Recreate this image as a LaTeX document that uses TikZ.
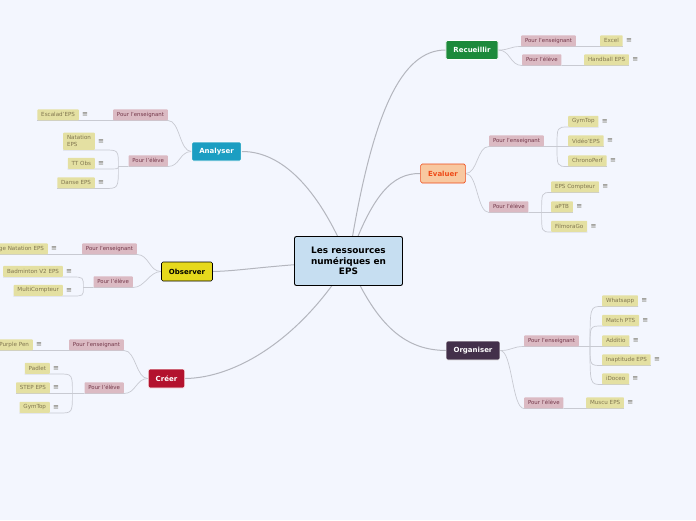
\documentclass[tikz,border=0pt]{standalone}
\usepackage{fontspec}
\setmainfont{DejaVu Sans}
\usetikzlibrary{positioning, backgrounds}
\definecolor{paper}{HTML}{F3F6FE}
\definecolor{rootblue}{HTML}{C6DEF1}
\definecolor{recgreen}{HTML}{1D8A3B}
\definecolor{evafill}{HTML}{F8C8A0}
\definecolor{evared}{HTML}{EE4A18}
\definecolor{orgplum}{HTML}{43304A}
\definecolor{anateal}{HTML}{1B9EC2}
\definecolor{obsyellow}{HTML}{E6D91C}
\definecolor{crecrimson}{HTML}{B3122E}
\definecolor{tagpink}{HTML}{DBBAC3}
\definecolor{tagtext}{HTML}{74384A}
\definecolor{leafkhaki}{HTML}{E4E0A2}
\definecolor{leaftext}{HTML}{817650}
\definecolor{menugray}{HTML}{6E6C5E}
\definecolor{trunkgray}{HTML}{B4B6BE}
\definecolor{twiggray}{HTML}{C8CAD2}

\tikzset{
  root/.style={draw=black, fill=rootblue, line width=0.9pt, rounded corners=2pt,
    font=\bfseries\fontsize{8.9}{10.5}\selectfont, align=center,
    minimum width=108pt, minimum height=49pt, inner sep=2pt},
  topic/.style={rounded corners=1.5pt, line width=0.6pt, font=\bfseries\fontsize{7}{8}\selectfont,
    minimum height=19pt, inner xsep=7.5pt, inner ysep=0pt},
  tag/.style={fill=tagpink, text=tagtext, rounded corners=0.8pt, font=\fontsize{5.4}{6.5}\selectfont,
    minimum height=11pt, inner xsep=3.8pt, inner ysep=0pt},
  leaf/.style={fill=leafkhaki, text=leaftext, rounded corners=0.8pt, font=\fontsize{5.6}{6.8}\selectfont,
    minimum height=11pt, inner xsep=3.8pt, inner ysep=0pt},
  menu/.style={text=menugray, font=\fontsize{7}{7}\selectfont, inner sep=0pt},
  trunk/.style={draw=trunkgray, line width=1pt},
  twig/.style={draw=twiggray, line width=0.7pt},
}

\begin{document}
\begin{tikzpicture}[x=1pt, y=-1pt]
  \useasboundingbox (0,0) rectangle (696,520);

  % centre and main topics
  \node[root] (root) at (348.5,261) {Les ressources\\numériques en\\EPS};
  \node[topic, draw=white, fill=recgreen, text=white] (rec) at (472,50) {Recueillir};
  \node[topic, draw=evared, fill=evafill, text=evared] (eva) at (443,173.5) {Evaluer};
  \node[topic, draw=white, fill=orgplum, text=white] (org) at (473,350.5) {Organiser};
  \node[topic, draw=white, fill=anateal, text=white] (ana) at (216.5,151.5) {Analyser};
  \node[topic, draw=black, fill=obsyellow, text=black] (obs) at (187,271.5) {Observer};
  \node[topic, draw=white, fill=crecrimson, text=white] (cre) at (166.5,378.5) {Créer};

  % right side
  \node[tag, anchor=south west] (rec-e) at (521,46.5) {Pour l'enseignant};
  \node[tag, anchor=south west] (rec-l) at (522,65.5) {Pour l'élève};
  \node[leaf, anchor=south west] (xl) at (600,46.5) {Excel};
  \node[leaf, anchor=south west] (hb) at (584,65.5) {Handball EPS};

  \node[tag, anchor=south west] (eva-e) at (489,146.5) {Pour l'enseignant};
  \node[tag, anchor=south west] (eva-l) at (489,212.5) {Pour l'élève};
  \node[leaf, anchor=south west] (gym) at (568,127) {GymTop};
  \node[leaf, anchor=south west] (vid) at (568,146.5) {Vidéo'EPS};
  \node[leaf, anchor=south west] (chr) at (568,166.5) {ChronoPerf};
  \node[leaf, anchor=south west] (epc) at (551,192.5) {EPS Compteur};
  \node[leaf, anchor=south west] (aptb) at (551,212.5) {aPTB};
  \node[leaf, anchor=south west] (fil) at (551,232) {FilmoraGo};

  \node[tag, anchor=south west] (org-e) at (524,346.5) {Pour l'enseignant};
  \node[tag, anchor=south west] (org-l) at (524,408.5) {Pour l'élève};
  \node[leaf, anchor=south west] (wa) at (602,306.5) {Whatsapp};
  \node[leaf, anchor=south west] (mpts) at (602,326) {Match PTS};
  \node[leaf, anchor=south west] (add) at (602,346.5) {Additio};
  \node[leaf, anchor=south west] (inap) at (602,365.5) {Inaptitude EPS};
  \node[leaf, anchor=south west] (ido) at (602,384.5) {iDoceo};
  \node[leaf, anchor=south west] (mus) at (586,408.5) {Muscu EPS};

  % left side
  \node[tag, anchor=south east] (ana-e) at (168,120.5) {Pour l'enseignant};
  \node[tag, anchor=south east] (ana-l) at (168,166.5) {Pour l'élève};
  \node[leaf, anchor=south east] (esc) at (79,120.5) {Escalad'EPS};
  \node[leaf, anchor=south east, align=left, inner ysep=3pt] (nat) at (95,150) {Natation\\EPS};
  \node[leaf, anchor=south east] (tto) at (95,169) {TT Obs};
  \node[leaf, anchor=south east] (dan) at (95,188.5) {Danse EPS};

  \node[tag, anchor=south east] (obs-e) at (137,254.5) {Pour l'enseignant};
  \node[tag, anchor=south east] (obs-l) at (133,287.5) {Pour l'élève};
  \node[leaf, anchor=south east] (gnat) at (48,254.5) {ge Natation EPS};
  \node[leaf, anchor=south east] (bad) at (63,277) {Badminton V2 EPS};
  \node[leaf, anchor=south east] (mco) at (63,296) {MultiCompteur};

  \node[tag, anchor=south east] (cre-e) at (124,350.5) {Pour l'enseignant};
  \node[tag, anchor=south east] (cre-l) at (124,393.5) {Pour l'élève};
  \node[leaf, anchor=south east] (pp) at (33,350.5) {Purple Pen};
  \node[leaf, anchor=south east] (pad) at (50,374) {Padlet};
  \node[leaf, anchor=south east] (stp) at (50,393.5) {STEP EPS};
  \node[leaf, anchor=south east] (gym2) at (50,413) {GymTop};

  \foreach \l in {xl,hb,gym,vid,chr,epc,aptb,fil,wa,mpts,add,inap,ido,mus,
                  esc,nat,tto,dan,gnat,bad,mco,pp,pad,stp,gym2}
    \node[menu, right=3pt of \l] (\l-m) {≡};

  \coordinate (eva-e-k) at ([xshift=13pt]eva-e.south east);
  \coordinate (eva-l-k) at ([xshift=13pt]eva-l.south east);
  \coordinate (org-e-k) at ([xshift=11pt]org-e.south east);
  \coordinate (ana-l-k) at ([xshift=-10pt]ana-l.south west);
  \coordinate (obs-l-k) at ([xshift=-10pt]obs-l.south west);
  \coordinate (cre-l-k) at ([xshift=-12pt]cre-l.south west);

  \begin{scope}[on background layer]
    \fill[paper] (0,0) rectangle (696,520);
    % trunks
    \draw[trunk] (root.center) .. controls (372,110) and (402,50) .. (rec.west);
    \draw[trunk] (root.center) .. controls (372,195) and (392,173) .. (eva.west);
    \draw[trunk] (root.center) .. controls (378,330) and (408,350) .. (org.west);
    \draw[trunk] (root.center) .. controls (322,195) and (285,151) .. (ana.east);
    \draw[trunk] (root.center) .. controls (262,266) and (240,271) .. (obs.east);
    \draw[trunk] (root.center) .. controls (300,340) and (235,378) .. (cre.east);

    % right branches
    \foreach \t/\s in {rec/rec-e,rec/rec-l,eva/eva-e,eva/eva-l,org/org-e,org/org-l}
      \draw[twig] (\t.east) .. controls +(12,0) and +(-12,0) .. (\s.south west) -- (\s.south east);
    \draw[twig] (rec-e.south east) -- (xl.south east);
    \draw[twig] (rec-l.south east) -- (hb.south east);
    \draw[twig] (org-l.south east) -- (mus.south east);
    \draw[twig] (eva-e.south east) -- (eva-e-k);
    \draw[twig] (eva-l.south east) -- (eva-l-k);
    \draw[twig] (org-e.south east) -- (org-e-k);
    \foreach \k/\l in {eva-e-k/gym,eva-e-k/vid,eva-e-k/chr,eva-l-k/epc,eva-l-k/aptb,eva-l-k/fil,
                       org-e-k/wa,org-e-k/mpts,org-e-k/add,org-e-k/inap,org-e-k/ido}
      \draw[twig] (\k) .. controls (\k |- \l.south west) .. (\l.south west) -- (\l.south east);

    % left branches
    \foreach \t/\s in {ana/ana-e,ana/ana-l,obs/obs-e,obs/obs-l,cre/cre-e,cre/cre-l}
      \draw[twig] (\t.west) .. controls +(-12,0) and +(12,0) .. (\s.south east) -- (\s.south west);
    \draw[twig] (ana-e.south west) -- (esc.south west);
    \draw[twig] (obs-e.south west) -- (gnat.south west);
    \draw[twig] (cre-e.south west) -- (pp.south west);
    \draw[twig] (ana-l.south west) -- (ana-l-k);
    \draw[twig] (obs-l.south west) -- (obs-l-k);
    \draw[twig] (cre-l.south west) -- (cre-l-k);
    \foreach \k/\l in {ana-l-k/nat,ana-l-k/tto,ana-l-k/dan,obs-l-k/bad,obs-l-k/mco,
                       cre-l-k/pad,cre-l-k/stp,cre-l-k/gym2}
      \draw[twig] (\k) .. controls (\k |- \l.south east) .. ([xshift=9pt]\l.south east) -- (\l.south west);
  \end{scope}
\end{tikzpicture}
\end{document}
